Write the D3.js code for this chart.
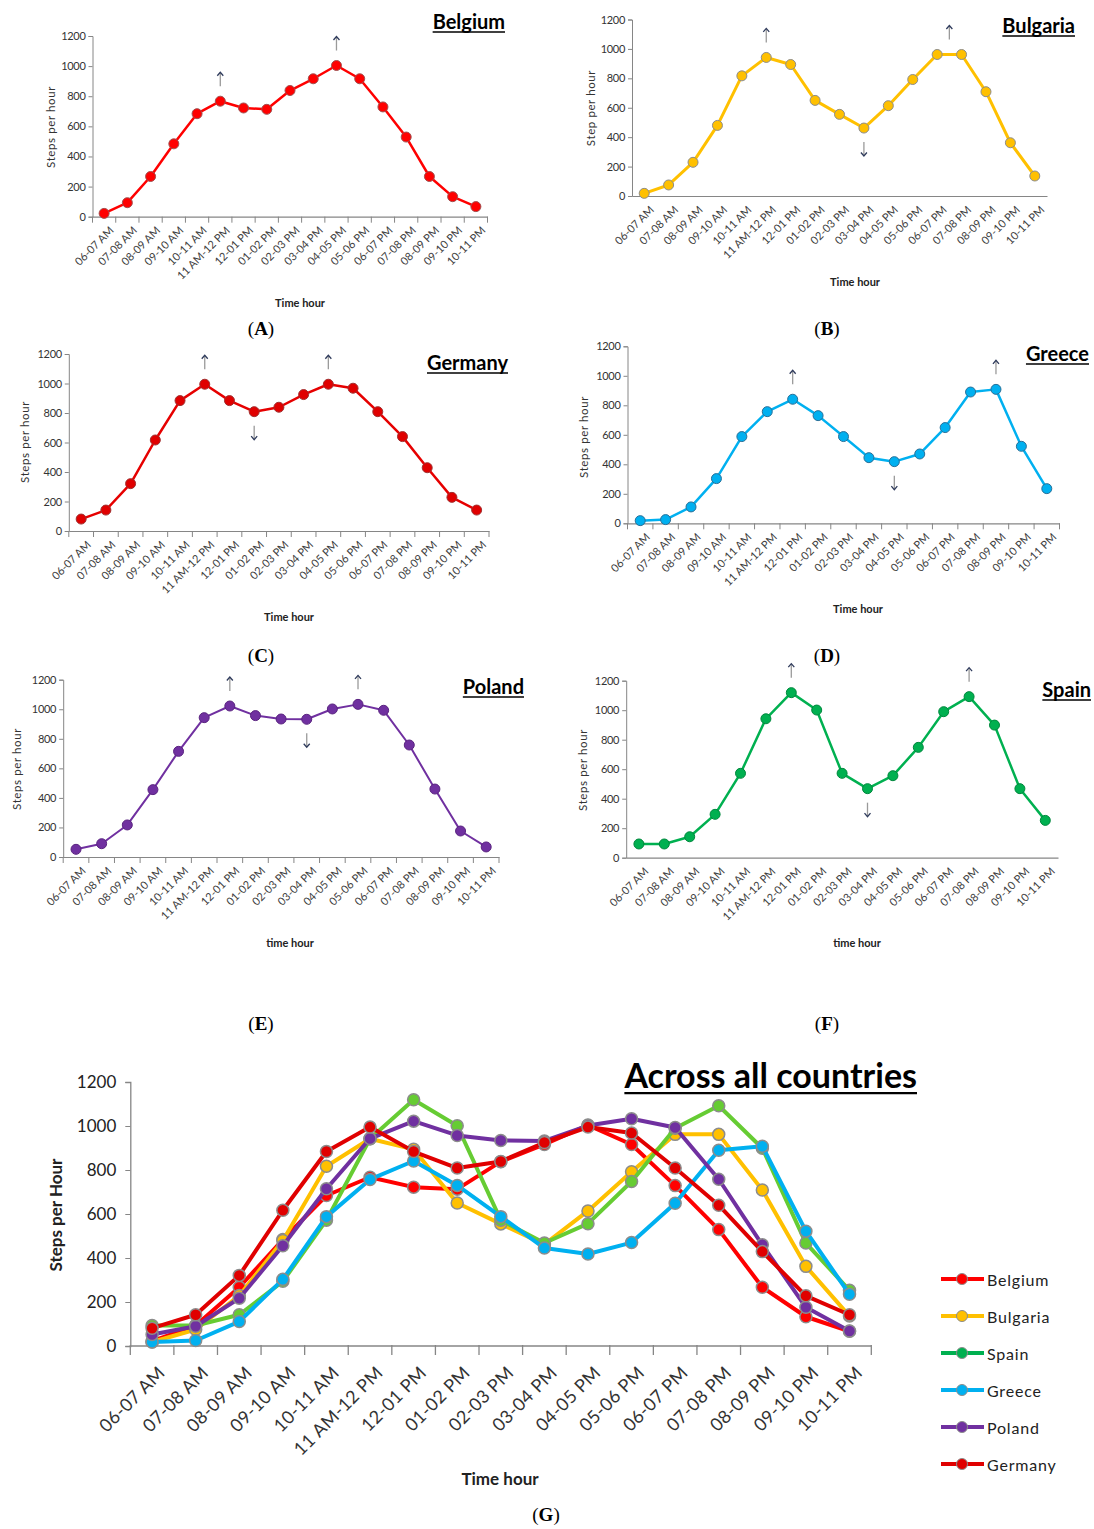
<!DOCTYPE html>
<html><head><meta charset="utf-8">
<script src="https://cdn.jsdelivr.net/npm/d3@7"></script>
<style>
body{margin:0;background:#fff;}
svg{display:block;}
</style></head>
<body>
<svg id="chart" width="1094" height="1529"></svg>
<script>
// ---------- data ----------
const hours = ["06-07 AM","07-08 AM","08-09 AM","09-10 AM","10-11 AM","11 AM-12 PM","12-01 PM","01-02 PM","02-03 PM","03-04 PM","04-05 PM","05-06 PM","06-07 PM","07-08 PM","08-09 PM","09-10 PM","10-11 PM"];
const yTicks = [0,200,400,600,800,1000,1200];
const belgium  = [22,93,267,484,684,767,722,713,838,916,1004,916,729,529,267,133,67];
const bulgaria = [18,75,229,480,817,942,894,650,555,462,614,792,962,962,709,362,136];
const germany  = [81,142,321,617,884,995,884,809,839,925,995,968,809,640,429,228,142];
const greece   = [18,25,111,303,588,757,841,730,588,445,418,470,649,890,908,522,235];
const poland   = [52,90,217,456,715,943,1022,957,934,932,1002,1033,993,758,460,176,68];
const spain    = [93,93,142,294,572,942,1119,1001,572,468,556,748,990,1092,899,468,253];
const countryNames = ["Belgium","Bulgaria","Spain","Greece","Poland","Germany"];
const countryValues = {Belgium:belgium,Bulgaria:bulgaria,Spain:spain,Greece:greece,Poland:poland,Germany:germany};
// peak/trough arrows: [country, category index, direction]
const arrows = [
 ["Belgium",5,"up"],["Belgium",10,"up"],
 ["Bulgaria",5,"up"],["Bulgaria",12.5,"up"],["Bulgaria",9,"down"],
 ["Germany",5,"up"],["Germany",10,"up"],["Germany",7,"down"],
 ["Greece",6,"up"],["Greece",14,"up"],["Greece",10,"down"],
 ["Poland",6,"up"],["Poland",11,"up"],["Poland",9,"down"],
 ["Spain",6,"up"],["Spain",13,"up"],["Spain",9,"down"]
];

// ---------- layout ----------
const panels = [
 {c:"Belgium", x0:92.5,x1:487.5,yb:216.7,yt:36, titleEnd:505,titleY:29, yl:[50,127],ylab:"Steps per hour", xt:[300,302],xlab:"Time hour", pl:[261,328],letter:"A", ticks:true, color:"#FF0000", mfill:"#FF0000", mstroke:"#A05050", lw:2.5},
 {c:"Bulgaria",x0:632,x1:1047,yb:196,yt:19.5, titleEnd:1075,titleY:33, yl:[590,108],ylab:"Step per hour", xt:[855,281],xlab:"Time hour", pl:[827,328],letter:"B", ticks:false, color:"#FFC000", mfill:"#FFC000", mstroke:"#8C8C8C", lw:3},
 {c:"Germany", x0:68.8,x1:489,yb:531,yt:354, titleEnd:508,titleY:370, yl:[24,442],ylab:"Steps per hour", xt:[289,616],xlab:"Time hour", pl:[261,655],letter:"C", ticks:true, color:"#E60000", mfill:"#E00000", mstroke:"#A03030", lw:2.5},
 {c:"Greece",  x0:627.5,x1:1059.5,yb:523.3,yt:346.3, titleEnd:1089,titleY:361, yl:[583,437],ylab:"Steps per hour", xt:[858,608],xlab:"Time hour", pl:[827,655],letter:"D", ticks:true, color:"#00B0F0", mfill:"#00B0F0", mstroke:"#2A6F97", lw:2.5},
 {c:"Poland",  x0:63.2,x1:499,yb:857,yt:679.7, titleEnd:524,titleY:694, yl:[16,769],ylab:"Steps per hour", xt:[290,942],xlab:"time hour", pl:[261,1023],letter:"E", ticks:true, color:"#7030A0", mfill:"#7030A0", mstroke:"#5A2480", lw:2},
 {c:"Spain",   x0:626.2,x1:1058,yb:857.7,yt:680.7, titleEnd:1091,titleY:697, yl:[582,770],ylab:"Steps per hour", xt:[857,942],xlab:"time hour", pl:[827,1023],letter:"F", ticks:false, color:"#00B050", mfill:"#00B050", mstroke:"#00873D", lw:2.5}
];
const FONT = "Lato, 'Open Sans', sans-serif";
const fmt = d3.format("d");
const svg = d3.select("#chart");

function underlinedTitle(g, text, xEnd, y, size){
  const t = g.append("text").attr("x",xEnd).attr("y",y).attr("text-anchor","end")
    .attr("font-family",FONT).attr("font-weight","bold").attr("font-size",size).attr("fill","#000").text(text);
  const w = t.node().getComputedTextLength();
  g.append("line").attr("x1",xEnd-w).attr("x2",xEnd).attr("y1",y+size*0.15).attr("y2",y+size*0.15)
    .attr("stroke","#000").attr("stroke-width",size>25?2.4:1.5);
}

function drawArrow(g, ax, ay, dir){
  // ay = centre; shaft 14px
  const s = dir==="up" ? -1 : 1;
  const tip = ay + s*7, tail = ay - s*7;
  g.append("line").attr("x1",ax).attr("x2",ax).attr("y1",tail).attr("y2",tip+ -s*0.5)
    .attr("stroke","#9A9A9A").attr("stroke-width",1.3);
  g.append("path").attr("d",`M${ax-3},${tip - s*3.5} L${ax},${tip} L${ax+3},${tip - s*3.5}`)
    .attr("fill","none").attr("stroke","#2F3B5C").attr("stroke-width",1.3);
}

panels.forEach(p=>{
  const g = svg.append("g");
  const vals = countryValues[p.c];
  const x = d3.scaleBand().domain(hours).range([p.x0,p.x1]).padding(0);
  const y = d3.scaleLinear().domain([0,1200]).range([p.yb,p.yt]);
  const cx = i => p.x0 + (i+0.5)*x.bandwidth();
  // y axis
  const ya = g.append("g").attr("transform",`translate(${p.x0},0)`)
    .call(d3.axisLeft(y).tickValues(yTicks).tickFormat(fmt).tickSize(4).tickPadding(3));
  ya.select(".domain").attr("stroke","#868686");
  ya.selectAll(".tick line").attr("stroke","#868686");
  ya.selectAll(".tick text").attr("font-family",FONT).attr("font-size",11).attr("fill","#333").attr("letter-spacing","-0.3");
  // x axis
  const xa = g.append("g").attr("transform",`translate(0,${p.yb})`)
    .call(d3.axisBottom(x).tickSize(0).tickFormat(""));
  xa.select(".domain").attr("stroke","#868686").attr("stroke-width",1.2);
  xa.selectAll(".tick").remove();
  if(p.ticks){
    const bounds = d3.range(hours.length+1).map(i=>p.x0+i*x.bandwidth());
    g.selectAll(null).data(bounds).enter().append("line")
      .attr("x1",d=>d).attr("x2",d=>d).attr("y1",p.yb).attr("y2",p.yb+6).attr("stroke","#868686");
  }
  g.selectAll(null).data(hours).enter().append("text")
    .attr("transform",(d,i)=>`translate(${cx(i)+5},${p.yb+9}) rotate(-45)`)
    .attr("text-anchor","end").attr("dy","0.7em")
    .attr("font-family",FONT).attr("font-size",11).attr("fill","#404040").text(d=>d);
  // line
  const line = d3.line().x((d,i)=>cx(i)).y(d=>y(d));
  g.append("path").datum(vals).attr("d",line).attr("fill","none").attr("stroke",p.color).attr("stroke-width",p.lw).attr("stroke-linejoin","round");
  g.selectAll(null).data(vals).enter().append("circle")
    .attr("cx",(d,i)=>cx(i)).attr("cy",d=>y(d)).attr("r",5)
    .attr("fill",p.mfill).attr("stroke",p.mstroke).attr("stroke-width",1);
  // arrows
  arrows.filter(a=>a[0]===p.c).forEach(a=>{
    const v = vals[Math.floor(a[1])];
    const ax = cx(a[1]);
    const ay = a[2]==="up" ? y(v)-22 : y(v)+21;
    drawArrow(g, ax, ay, a[2]);
  });
  // titles
  underlinedTitle(g, p.c, p.titleEnd, p.titleY, 20);
  g.append("text").attr("transform",`translate(${p.yl[0]},${p.yl[1]}) rotate(-90)`).attr("text-anchor","middle")
    .attr("dominant-baseline","central").attr("font-family",FONT).attr("font-size",11.5).attr("letter-spacing","0.6")
    .attr("fill","#333").text(p.ylab);
  g.append("text").attr("x",p.xt[0]).attr("y",p.xt[1]).attr("text-anchor","middle").attr("dominant-baseline","central")
    .attr("font-family",FONT).attr("font-weight","bold").attr("font-size",11).attr("fill","#222").text(p.xlab);
  const pl = g.append("text").attr("x",p.pl[0]).attr("y",p.pl[1]).attr("text-anchor","middle").attr("dominant-baseline","central")
    .attr("font-family","'Liberation Serif', serif").attr("font-size",19).attr("fill","#000");
  pl.append("tspan").text("(");
  pl.append("tspan").attr("font-weight","bold").text(p.letter);
  pl.append("tspan").text(")");
});

// ---------- combined panel G ----------
(function(){
  const G = {x0:130.3,x1:871.3,yb:1346,yt:1082};
  const gcol = {Belgium:"#FF0000",Bulgaria:"#FFC000",Spain:"#66CC33",Greece:"#00B0F0",Poland:"#7030A0",Germany:"#E00000"};
  const lcol = {Belgium:"#FF0000",Bulgaria:"#FFC000",Spain:"#00B050",Greece:"#00B0F0",Poland:"#7030A0",Germany:"#E00000"};
  const g = svg.append("g");
  const x = d3.scaleBand().domain(hours).range([G.x0,G.x1]).padding(0);
  const y = d3.scaleLinear().domain([0,1200]).range([G.yb,G.yt]);
  const cx = i => G.x0 + (i+0.5)*x.bandwidth();
  const ya = g.append("g").attr("transform",`translate(${G.x0},0)`)
    .call(d3.axisLeft(y).tickValues(yTicks).tickFormat(fmt).tickSize(5).tickPadding(9));
  ya.select(".domain").attr("stroke","#868686").attr("stroke-width",1.3);
  ya.selectAll(".tick line").attr("stroke","#868686");
  ya.selectAll(".tick text").attr("font-family",FONT).attr("font-size",17).attr("fill","#222");
  g.append("line").attr("x1",G.x0).attr("x2",G.x1).attr("y1",G.yb).attr("y2",G.yb).attr("stroke","#868686").attr("stroke-width",1.3);
  const bounds = d3.range(hours.length+1).map(i=>G.x0+i*x.bandwidth());
  g.selectAll(null).data(bounds).enter().append("line")
    .attr("x1",d=>d).attr("x2",d=>d).attr("y1",G.yb-1).attr("y2",G.yb+9).attr("stroke","#868686").attr("stroke-width",1.3);
  g.selectAll(null).data(hours).enter().append("text")
    .attr("transform",(d,i)=>`translate(${cx(i)+5},${G.yb+19}) rotate(-45)`)
    .attr("text-anchor","end").attr("dy","0.7em")
    .attr("font-family",FONT).attr("font-size",18).attr("letter-spacing","0.3").attr("fill","#333").text(d=>d);
  const line = d3.line().x((d,i)=>cx(i)).y(d=>y(d));
  countryNames.forEach(c=>{
    const vals = countryValues[c];
    g.append("path").datum(vals).attr("d",line).attr("fill","none").attr("stroke",gcol[c]).attr("stroke-width",4).attr("stroke-linejoin","round");
    g.selectAll(null).data(vals).enter().append("circle")
      .attr("cx",(d,i)=>cx(i)).attr("cy",d=>y(d)).attr("r",6)
      .attr("fill",gcol[c]).attr("stroke","#8C8C8C").attr("stroke-width",1.5);
  });
  underlinedTitle(g,"Across all countries",917,1088,34);
  g.append("text").attr("transform","translate(55,1215) rotate(-90)").attr("text-anchor","middle").attr("dominant-baseline","central")
    .attr("font-family",FONT).attr("font-weight","bold").attr("font-size",17).attr("fill","#222").text("Steps per Hour");
  g.append("text").attr("x",500).attr("y",1478).attr("text-anchor","middle").attr("dominant-baseline","central")
    .attr("font-family",FONT).attr("font-weight","bold").attr("font-size",17).attr("fill","#222").text("Time hour");
  const pl = g.append("text").attr("x",546).attr("y",1514).attr("text-anchor","middle").attr("dominant-baseline","central")
    .attr("font-family","'Liberation Serif', serif").attr("font-size",19).attr("fill","#000");
  pl.append("tspan").text("(");pl.append("tspan").attr("font-weight","bold").text("G");pl.append("tspan").text(")");
  // legend
  const lg = g.append("g");
  countryNames.forEach((c,i)=>{
    const ly = 1279 + i*37;
    lg.append("line").attr("x1",941).attr("x2",984).attr("y1",ly).attr("y2",ly).attr("stroke",lcol[c]).attr("stroke-width",4);
    lg.append("circle").attr("cx",962).attr("cy",ly).attr("r",5.5).attr("fill",lcol[c]).attr("stroke","#8C8C8C").attr("stroke-width",1);
    lg.append("text").attr("x",987).attr("y",ly).attr("dominant-baseline","central").attr("font-family",FONT)
      .attr("font-size",16).attr("letter-spacing","0.8").attr("fill","#222").text(c);
  });
})();
</script>
</body></html>
